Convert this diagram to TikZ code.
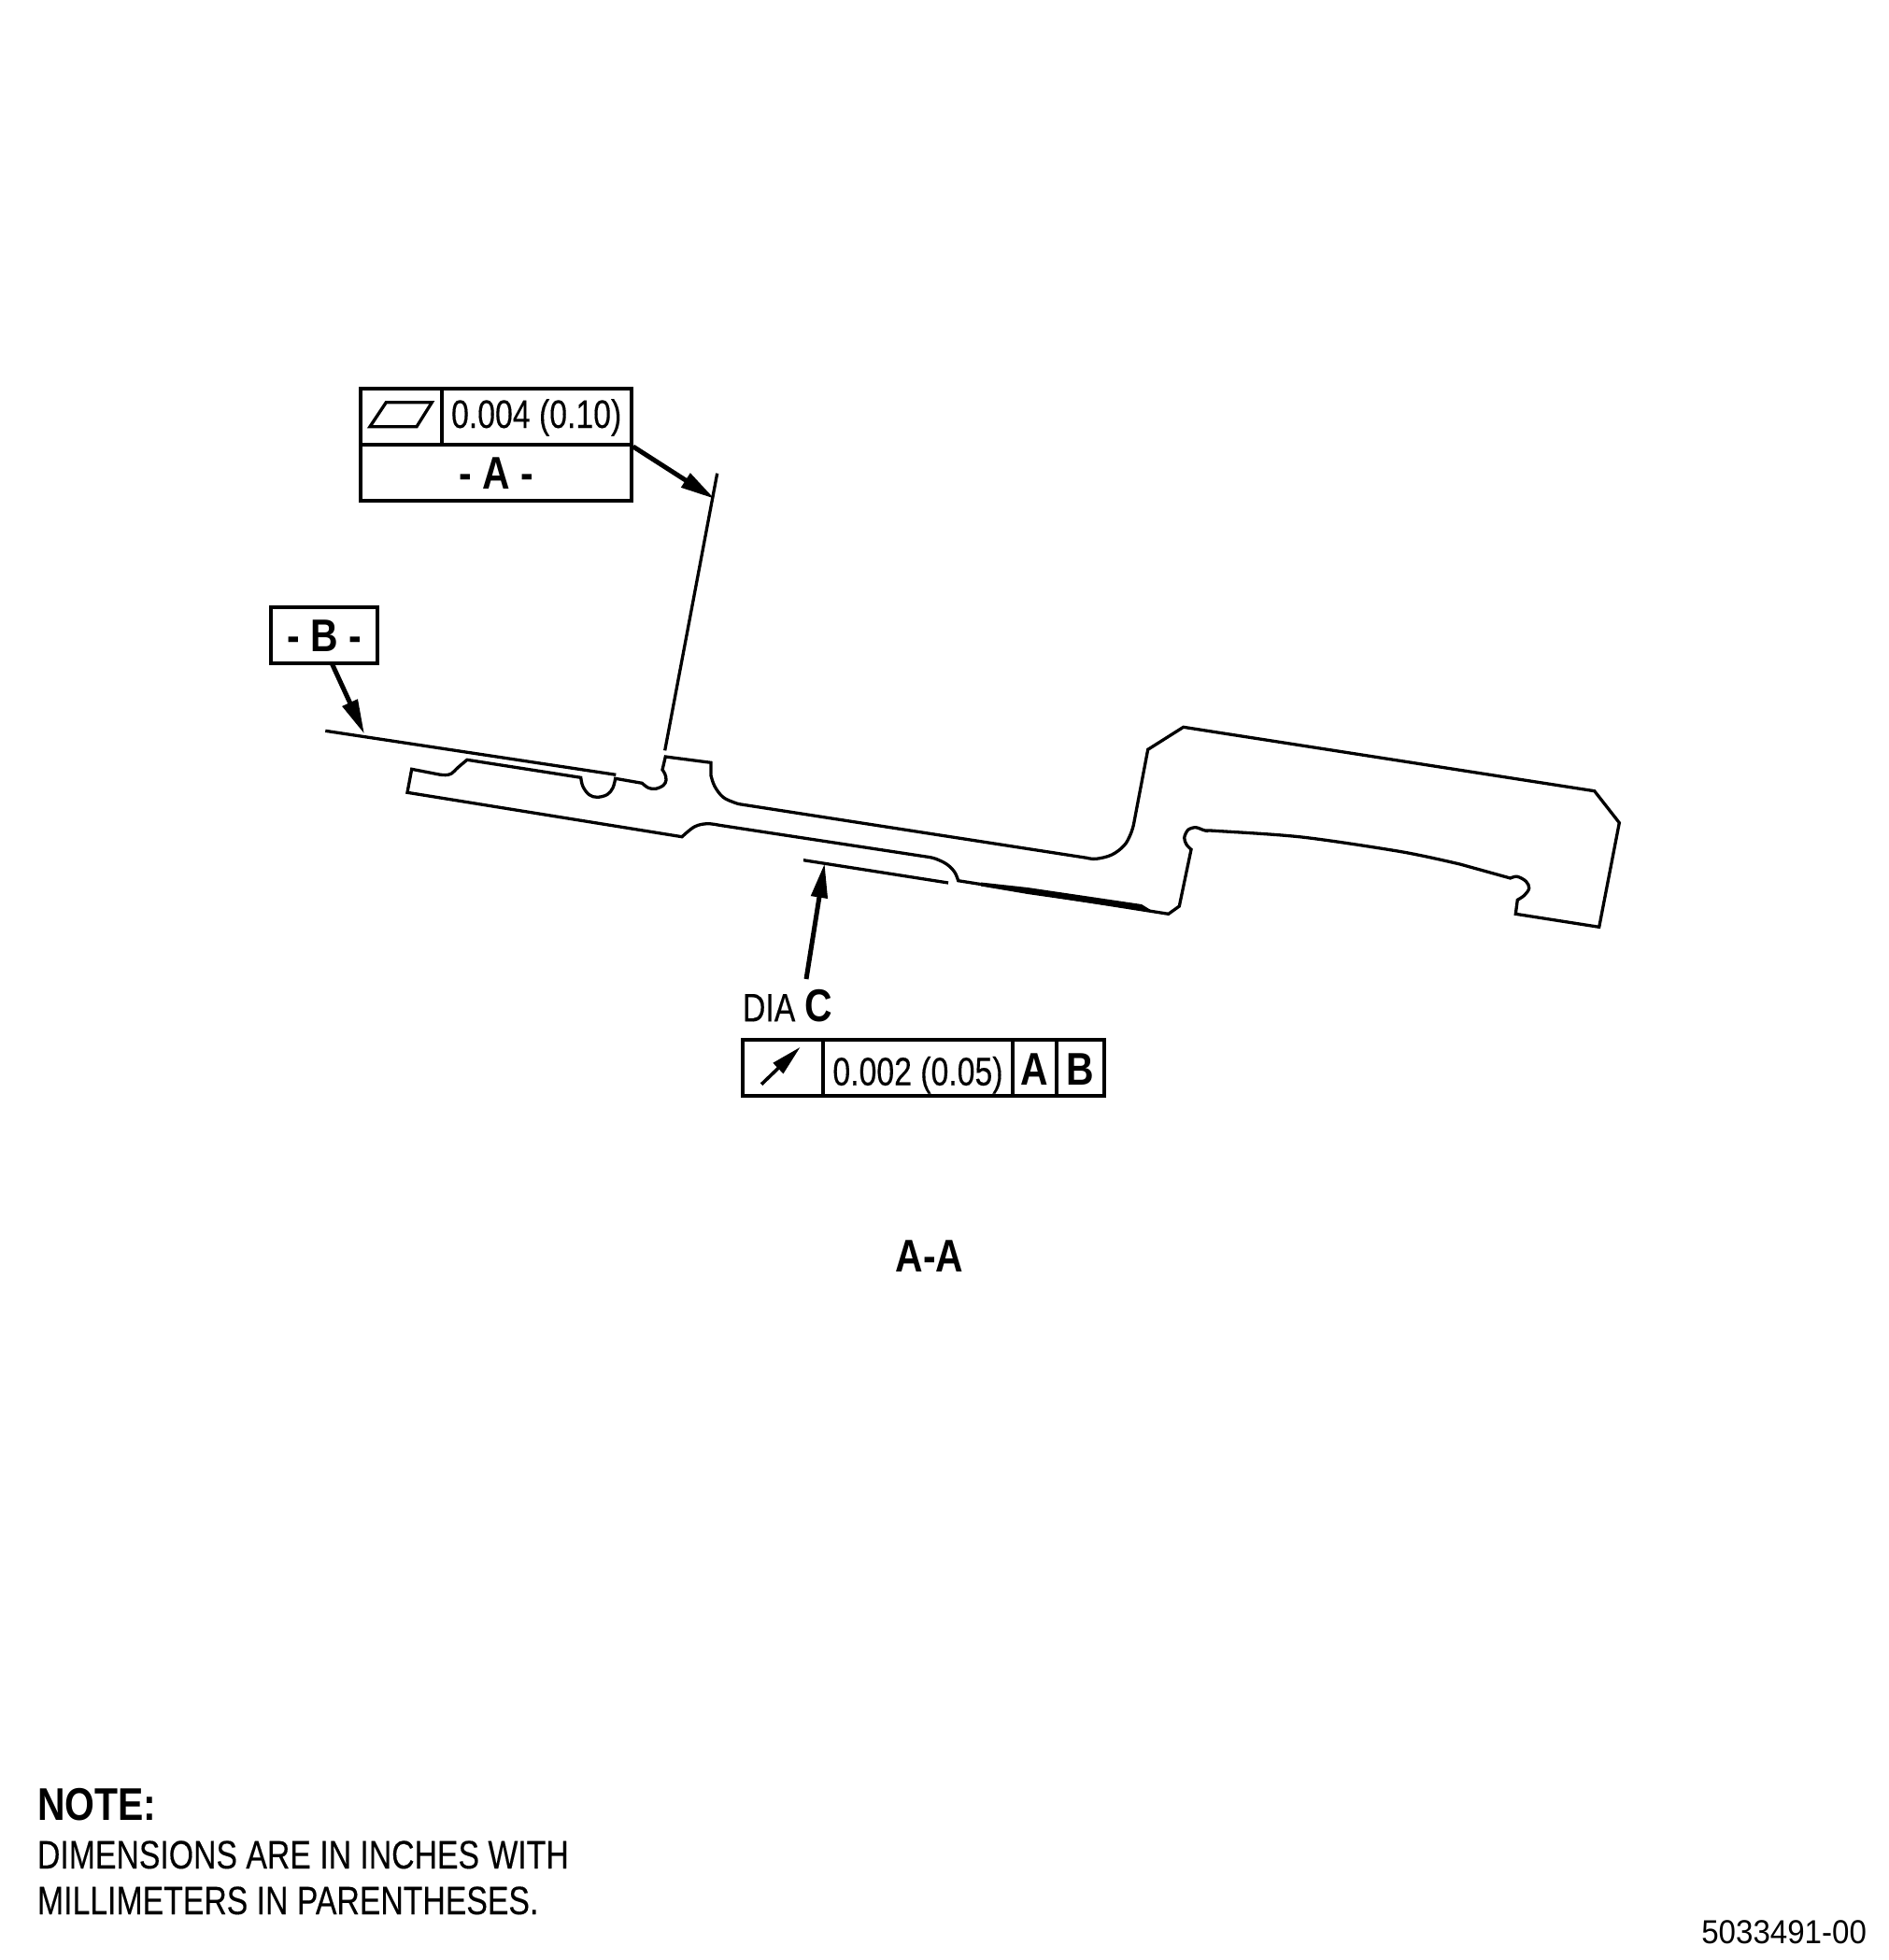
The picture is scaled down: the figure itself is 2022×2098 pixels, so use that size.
\documentclass[tikz,border=0pt]{standalone}
\usepackage{fontspec}
\setmainfont{Liberation Sans}
\newfontfamily\regf[FakeStretch=0.795,FakeBold=0.25]{Liberation Sans}
\newfontfamily\boldf[FakeStretch=0.835]{Liberation Sans}
\newfontfamily\idf[FakeStretch=0.93]{Liberation Sans}
\usetikzlibrary{arrows.meta}
\tikzset{
  boxline/.style={draw=black,line width=2pt,inner sep=0pt,align=center},
  regtext/.style={font=\regf\fontsize{21.25pt}{25pt}\selectfont},
  boldtext/.style={font=\boldf\bfseries\fontsize{24.5pt}{29pt}\selectfont},
  plain/.style={inner sep=0pt,outer sep=0pt},
  part/.style={draw=black,line width=1.65pt,line join=miter},
  datum/.style={draw=black,line width=1.65pt},
  leader/.style={draw=black,line width=2.5pt,-{Triangle[length=18.5pt,width=8.5pt]}},
  symleader/.style={draw=black,line width=1.8pt,-{Triangle[length=16.5pt,width=7.5pt]}},
}
\begin{document}
\begin{tikzpicture}[x=0.5pt,y=-0.5pt]
\useasboundingbox (0,0) rectangle (2022,2098);

% ---- part profile
\draw[part] (436,848.3) -- (440.7,823.3) -- (470,829)
  -- plot[smooth,tension=.6] coordinates {(470,829) (477,829.6) (483.3,828) (490,821.7) (500,813.3)}
  -- (621.7,832.3)
  -- plot[smooth,tension=.6] coordinates {(621.7,832.3) (624,842) (630.7,850.7) (639.3,853.3) (650,850.5) (656,843.3) (658.7,833.3)}
  -- (687.3,838.3)
  -- plot[smooth,tension=.6] coordinates {(687.3,838.3) (694,843.3) (701.7,844.3) (710,840.7) (713,835) (711.7,828.3) (709,824)}
  -- (712.3,810) -- (761,816.3) -- (761,830)
  -- plot[smooth,tension=.6] coordinates {(761,830) (765,841.7) (774,853.3) (786.7,859.3) (793.3,861)}
  -- (1163.3,918.3)
  -- plot[smooth,tension=.6] coordinates {(1163.3,918.3) (1173.3,919.3) (1190,915) (1203.3,905) (1210,893.3) (1213.3,883.3)}
  -- (1228.7,802.3) -- (1266.7,778.3) -- (1706.7,846.7) -- (1733.3,880.7) -- (1711.7,992.3) -- (1622.3,978.3) -- (1624.3,963.3)
  -- plot[smooth,tension=.6] coordinates {(1624.3,963.3) (1631.7,958.3) (1636.7,950.7) (1633.3,943.3) (1624,938.3) (1616.7,940)}
  -- (1562.7,925)
  -- plot[smooth,tension=.5] coordinates {(1562.7,925) (1500,911.7) (1393.3,896) (1300,889.3) (1290,889) (1280,885.7) (1271.7,888.3) (1267.7,896.7) (1270,904) (1275,909.3)}
  -- (1262.3,970) -- (1250.7,978.3) -- (1025.7,942.7)
  -- plot[smooth,tension=.6] coordinates {(1025.7,942.7) (1021.7,933.3) (1013.3,925) (1001.7,919.3) (993.3,917.3)}
  -- (770,883.3)
  -- plot[smooth,tension=.6] coordinates {(770,883.3) (756.7,881.7) (743.3,885) (730,895.7)}
  -- cycle;
% thickened sliver of the lower edge
\fill[black] (1050,944.5) -- (1100,950) -- (1222,968) -- (1235,976) -- (1222,974.5) -- (1100,957) -- (1050,948.5) -- cycle;

% ---- named free points
\coordinate (datAtop) at (767.7,506.7);
\coordinate (datAend) at (711.7,803.3);
\coordinate (tipA) at (765,534);
\coordinate (datBstart) at (348.3,782.3);
\coordinate (datBend) at (659.3,829.3);
\coordinate (tipB) at (390,785.7);
\coordinate (datCstart) at (860,920.7);
\coordinate (datCend) at (1015,945);
\coordinate (tipC) at (882.7,924);
\coordinate (tailC) at (863,1048);
\coordinate (symTail) at (815,1160.7);
\coordinate (symTip) at (856.7,1120.7);

% ---- datum lines
\draw[datum] (datAtop) -- (datAend);
\draw[datum] (datBstart) -- (datBend);
\draw[datum] (datCstart) -- (datCend);

% ---- feature control frame A
\node[boxline,minimum width=43.2pt,minimum height=30pt] (symA) at (429.5,446) {};
\node[boxline,regtext,minimum width=101.5pt,minimum height=30pt,text height=12pt,text depth=0pt] (valA) at (574.2,446) {0.004 (0.10)};
\node[boxline,boldtext,minimum width=144.7pt,minimum height=30pt,text height=17.7pt,text depth=0pt] (datA) at (531,506) {- A -};
\draw[line width=1.65pt] (396,456.7) -- (413.3,430.7) -- (462.3,430.7) -- (446,456.7) -- cycle;

% ---- datum B box
\node[boxline,boldtext,minimum width=56.7pt,minimum height=30.3pt,text height=17.3pt,text depth=0pt] (boxB) at (347,680) {- B -};

% ---- feature control frame C
\node[boxline,minimum width=42.85pt,minimum height=30pt] (symC) at (838.15,1143.3) {};
\node[boxline,regtext,minimum width=101.5pt,minimum height=30pt,text height=18.4pt,text depth=0pt] (valC) at (982.5,1143.3) {0.002 (0.05)};
\node[boxline,boldtext,minimum width=23.5pt,minimum height=30pt,text height=18.4pt,text depth=0pt] (refA) at (1107.5,1143.3) {A};
\node[boxline,boldtext,minimum width=25.35pt,minimum height=30pt,text height=18.4pt,text depth=0pt] (refB) at (1156.35,1143.3) {B};
\draw[symleader] (symTail) -- (symTip);

% ---- leaders
\draw[leader] (valA.south east) -- (tipA);
\draw[leader] (355.3,710.3) -- (tipB);
\draw[leader] (tailC) -- (tipC);

% ---- labels
\node[plain,regtext,anchor=base west] (dia) at (795,1093.3) {DIA};
\node[plain,boldtext,anchor=base west] (diaC) at (861.7,1093.3) {C};
\node[plain,boldtext,anchor=base] (section) at (995,1361.7) {A-A};
\node[plain,boldtext,anchor=base west] (note) at (40,1948.5) {NOTE:};
\node[plain,regtext,anchor=base west] (noteA) at (40,2000) {DIMENSIONS ARE IN INCHES WITH};
\node[plain,regtext,anchor=base west] (noteB) at (40,2049) {MILLIMETERS IN PARENTHESES.};
\node[plain,anchor=base east,font=\idf\fontsize{17.8pt}{21pt}\selectfont] (idnum) at (1998,2080) {5033491-00};
\end{tikzpicture}
\end{document}
